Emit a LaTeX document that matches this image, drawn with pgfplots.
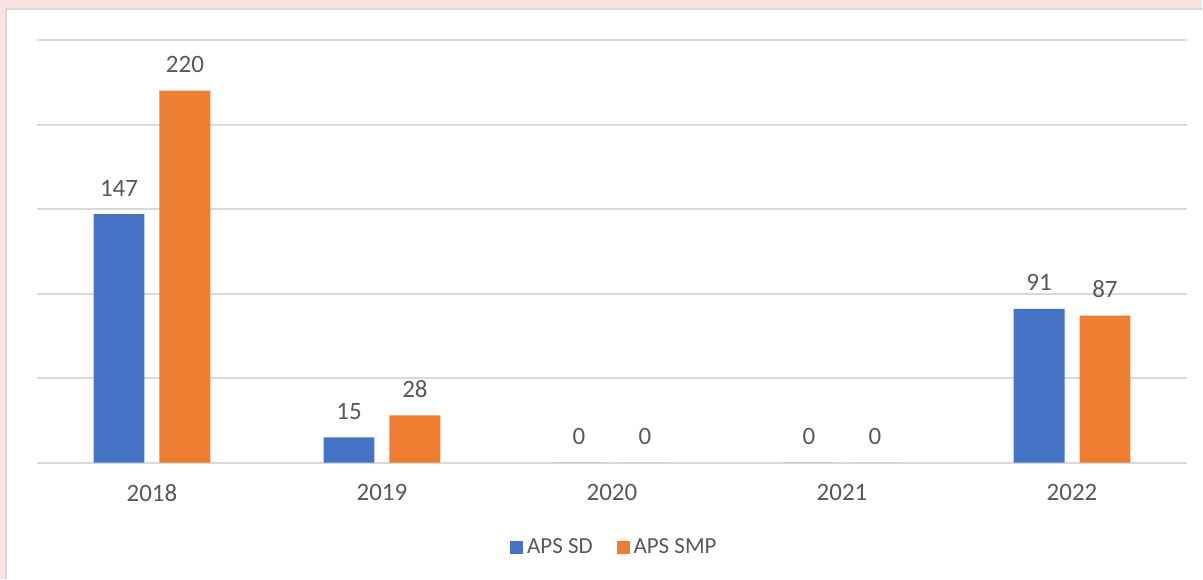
\documentclass[border=0pt]{standalone}
\usepackage{fontspec}
\setmainfont{Carlito}
\usepackage{pgfplots}
\pgfplotsset{compat=1.18}
\definecolor{xblue}{HTML}{4472C4}
\definecolor{xorange}{HTML}{ED7D31}
\definecolor{xtext}{HTML}{595959}
\definecolor{xgrid}{HTML}{D9D9D9}
\definecolor{xpink}{HTML}{FBE3E3}
\begin{document}
\begin{tikzpicture}[x=1pt,y=1pt]
% page frame: 1203x579 px at 0.5pt per px
\fill[xpink] (0,0) rectangle (601.5,289.5);
\fill[white] (3.25,0) rectangle (601.5,284.75);
\draw[xgrid,line width=1pt] (3.25,0) -- (3.25,284.75) -- (601.5,284.75);
\begin{axis}[
  at={(18.5pt,58pt)}, anchor=south west,
  scale only axis,
  width=575.5pt, height=211.5pt,
  xmin=-0.5, xmax=4.5,
  ymin=0, ymax=250,
  ytick={0,50,100,150,200,250},
  yticklabels={},
  ymajorgrids,
  grid style={xgrid,line width=1pt},
  axis line style={draw=none},
  major tick length=0pt,
  xtick={0,1,2,3,4},
  xticklabels={2018,2019,2020,2021,2022},
  xticklabel style={font=\fontsize{12.5}{14}\selectfont,text=xtext,yshift=-7.5pt},
  ybar=7.5pt,
  bar width=25.5pt,
  /pgf/number format/assume math mode=true,
  nodes near coords,
  every node near coord/.append style={font=\fontsize{12.5}{14}\selectfont,text=xtext,yshift=5.5pt},
  legend columns=2,
  legend style={at={(0.503,-0.2)},anchor=center,draw=none,fill=none,
    font=\fontsize{11.5}{13}\selectfont,text=xtext,
    /tikz/every even column/.append style={column sep=10pt}},
  legend image code/.code={\fill[#1] (0pt,-3.2pt) rectangle (6.4pt,3.2pt);},
  clip=false,
]
\addplot[fill=xblue,draw=none] coordinates {(0,147) (1,15) (2,0) (3,0) (4,91)};
\addplot[fill=xorange,draw=none] coordinates {(0,220) (1,28) (2,0) (3,0) (4,87)};
\legend{APS SD,APS SMP}
\end{axis}
\end{tikzpicture}
\end{document}
